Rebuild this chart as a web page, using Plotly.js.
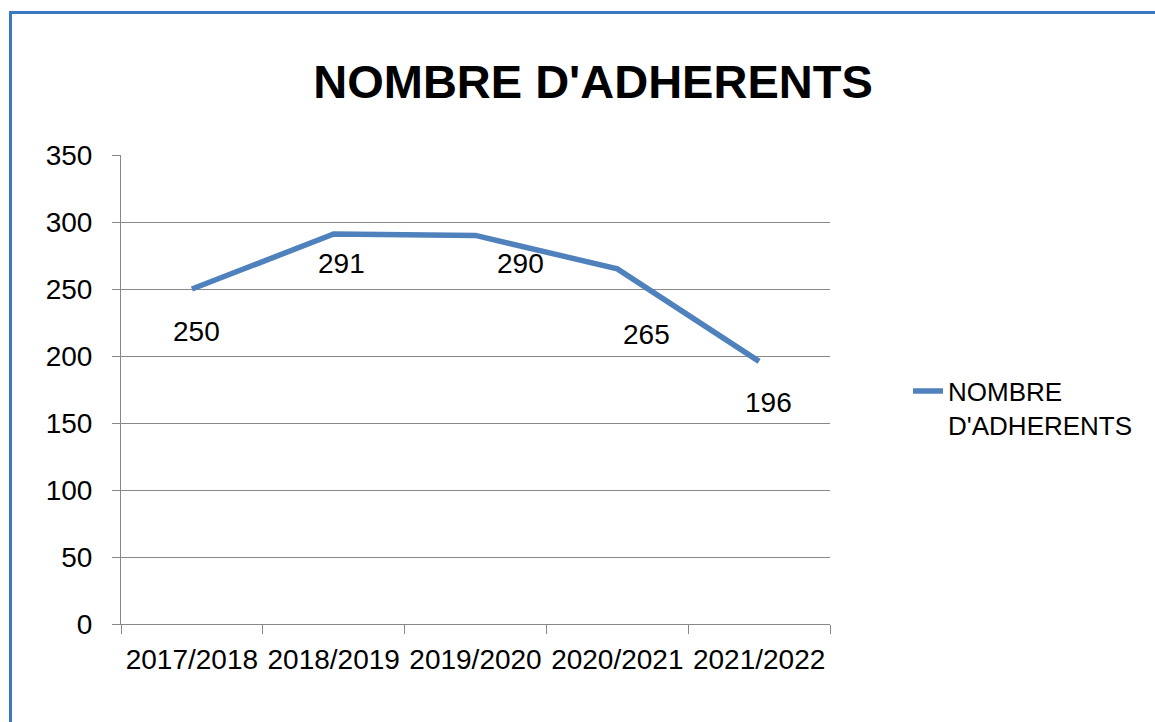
<!DOCTYPE html>
<html>
<head>
<meta charset="utf-8">
<script src="https://cdn.plot.ly/plotly-3.0.1.min.js"></script>
<style>
  html, body { margin: 0; padding: 0; background: #ffffff; overflow: hidden; }
  #wrap { position: relative; width: 1155px; height: 722px; }
  #chart { position: absolute; left: 0; top: 0; width: 1155px; height: 722px; }
  #frame { position: absolute; left: 9px; top: 11px; width: 1300px; height: 900px;
           border: 3px solid #3B78BF; pointer-events: none; }
</style>
</head>
<body>
<div id="wrap">
  <div id="chart"></div>
  <div id="frame"></div>
</div>
<script>
// ---- data ----
const chartTitle = "NOMBRE D'ADHERENTS";
const seriesName = "NOMBRE<br>D'ADHERENTS";
const seasons = ["2017/2018", "2018/2019", "2019/2020", "2020/2021", "2021/2022"];
const adherents = [250, 291, 290, 265, 196];
const yTicks = [0, 50, 100, 150, 200, 250, 300, 350];

// data-label placement (pixel offsets from each point, as in the original)
const labelDx = [5, 8, 45, 29, 9];
const labelDy = [-42, -29, -28, -66, -41];

const font = "'Liberation Sans', Arial, sans-serif";
const gray = "#888888";

const trace = {
  type: "scatter",
  mode: "lines",
  x: seasons,
  y: adherents,
  name: seriesName,
  line: { color: "#4F81BD", width: 5.5 },
  hoverinfo: "x+y"
};

const annotations = adherents.map((v, i) => ({
  x: seasons[i], y: v, xref: "x", yref: "y",
  text: String(v), showarrow: false,
  xanchor: "center", yanchor: "middle",
  xshift: labelDx[i], yshift: labelDy[i],
  font: { family: font, size: 28, color: "#000000" }
}));

const layout = {
  width: 1155, height: 722,
  paper_bgcolor: "rgba(0,0,0,0)", plot_bgcolor: "rgba(0,0,0,0)",
  margin: { l: 121, r: 325, t: 155, b: 98 },
  font: { family: font, size: 28, color: "#000000" },
  title: {
    text: "<b>" + chartTitle + "</b>",
    font: { family: font, size: 47, color: "#000000" },
    x: 593 / 1155, xref: "container", xanchor: "center",
    y: 1 - 82 / 722, yref: "container", yanchor: "middle"
  },
  xaxis: {
    type: "category",
    range: [-0.5, seasons.length - 0.5],
    tickson: "boundaries",
    ticks: "outside", ticklen: 9, tickcolor: gray, tickwidth: 1,
    showline: true, linecolor: gray, linewidth: 1,
    showgrid: false, zeroline: false,
    ticklabelstandoff: 10,
    tickfont: { family: font, size: 28, color: "#000000" },
    fixedrange: true
  },
  yaxis: {
    range: [0, 350],
    tickvals: yTicks,
    ticktext: yTicks.map(String),
    ticks: "outside", ticklen: 8, tickcolor: gray, tickwidth: 1,
    showline: true, linecolor: gray, linewidth: 1,
    showgrid: true, gridcolor: gray, gridwidth: 1,
    zeroline: false,
    ticklabelstandoff: 14,
    tickfont: { family: font, size: 28, color: "#000000" },
    fixedrange: true
  },
  showlegend: true,
  legend: {
    x: (908 - 121) / 709, xanchor: "left",
    y: (623 - 366) / 470, yanchor: "top",
    bgcolor: "rgba(0,0,0,0)",
    font: { family: font, size: 26, color: "#000000" },
    valign: "top"
  },
  annotations: annotations
};

Plotly.newPlot("chart", [trace], layout, { displayModeBar: false, staticPlot: false });
</script>
</body>
</html>
